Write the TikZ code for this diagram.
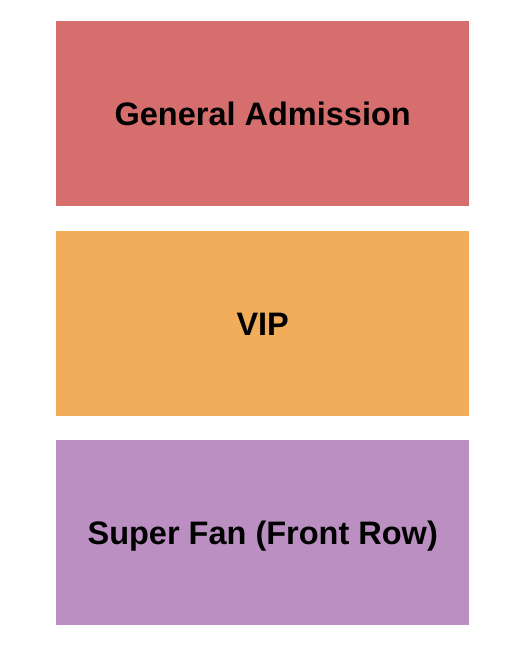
\documentclass[tikz,border=0pt]{standalone}
\usepackage{fontspec}
\setmainfont{Liberation Sans}
\definecolor{gared}{HTML}{D76E6E}
\definecolor{viporange}{HTML}{F2AD5B}
\definecolor{fanpurple}{HTML}{BC8FC3}
\begin{document}
\begin{tikzpicture}[x=1pt,y=-1pt,
  section/.style={minimum width=413pt, minimum height=185pt, inner sep=0pt, draw=none,
    text height=24pt, text depth=0pt,
    font=\fontsize{32.5}{38}\selectfont\bfseries, text=black, anchor=north west}]
\useasboundingbox[fill=white] (0,0) rectangle (525,650);
\node[section, fill=gared] (ga) at (56,21) {General Admission};
\node[section, fill=viporange] (vip) at (56,231) {VIP};
\node[section, fill=fanpurple] (fan) at (56,440) {Super Fan (Front Row)};
\end{tikzpicture}
\end{document}
